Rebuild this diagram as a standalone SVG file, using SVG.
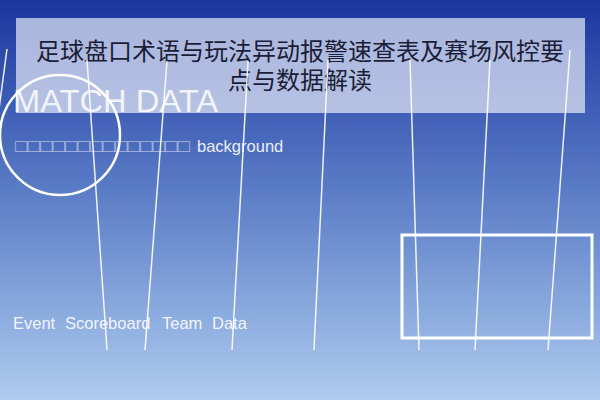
<svg xmlns="http://www.w3.org/2000/svg" width="600" height="400" viewBox="0 0 600 400">
<defs>
<linearGradient id="bg" x1="0" y1="0" x2="0" y2="1">
<stop offset="0" stop-color="#1a37a0"/>
<stop offset="0.5" stop-color="#5d80c8"/>
<stop offset="1" stop-color="#afcbef"/>
</linearGradient>
</defs>
<style>
.ln{stroke:#ffffff;stroke-width:1.5;stroke-opacity:0.9;fill:none}
.title{font-family:"Liberation Sans","Noto Sans CJK SC",sans-serif;font-size:24px;fill:#1b1d36;text-anchor:middle}
.w{font-family:"Liberation Sans","Noto Sans CJK SC",sans-serif;fill:#ffffff}
</style>
<rect width="600" height="400" fill="url(#bg)"/>
<g id="title-box">
<rect x="16" y="18" width="569" height="95" fill="#ffffff" fill-opacity="0.62"/>
<text class="title" x="300" y="60">足球盘口术语与玩法异动报警速查表及赛场风控要</text>
<text class="title" x="300" y="89">点与数据解读</text>
</g>
<g id="circle">
<circle cx="60" cy="135" r="60" fill="none" stroke="#ffffff" stroke-width="2.5"/>
</g>
<g id="frame">
<rect x="402" y="235" width="190" height="103" fill="none" stroke="#ffffff" stroke-width="3"/>
</g>
<g id="connectors">
<line class="ln" x1="7" y1="49" x2="-33" y2="350"/>
<line class="ln" x1="87" y1="60" x2="107" y2="350"/>
<line class="ln" x1="167" y1="61" x2="145" y2="350"/>
<line class="ln" x1="248" y1="61" x2="232" y2="350"/>
<line class="ln" x1="328" y1="60" x2="314" y2="350"/>
<line class="ln" x1="410" y1="60" x2="419" y2="350"/>
<line class="ln" x1="490" y1="60" x2="475" y2="350"/>
<line class="ln" x1="570" y1="50" x2="548" y2="350"/>
</g>
<g id="match-data">
<text class="w" x="13" y="112" font-size="32" fill-opacity="0.85" textLength="205" lengthAdjust="spacingAndGlyphs">MATCH DATA</text>
</g>
<g id="subtitle">
<text class="w" x="15" y="152" font-size="18" fill-opacity="0.55" textLength="175" lengthAdjust="spacingAndGlyphs">□□□□□□□□□□□□□□</text>
<text class="w" x="197" y="152" font-size="16.5" fill-opacity="0.9">background</text>
</g>
<g id="footer">
<text class="w" y="329" font-size="16.5" fill-opacity="0.9"><tspan x="13">Event</tspan><tspan x="65">Scoreboard</tspan><tspan x="162">Team</tspan><tspan x="212">Data</tspan></text>
</g>
</svg>
